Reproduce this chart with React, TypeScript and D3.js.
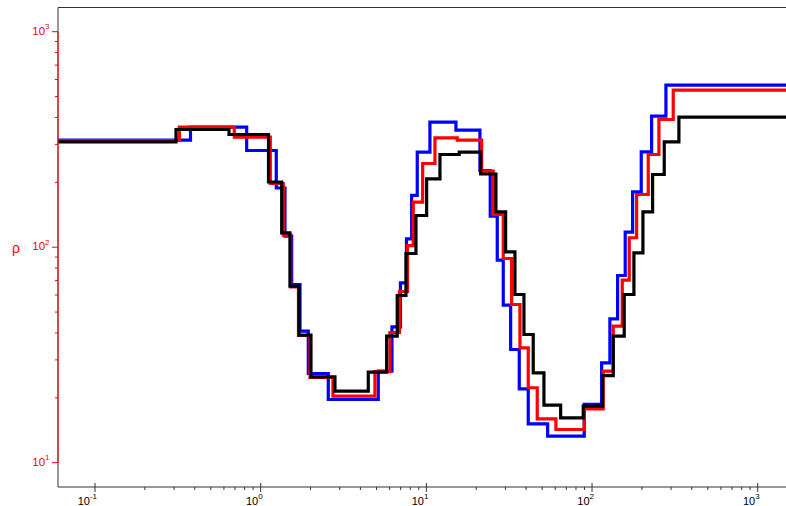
import React from 'react';
import * as d3 from 'd3';

// ---- data (time, value) step breakpoints ----
const xTickExps = [-1, 0, 1, 2, 3];
const yTickExps = [1, 2, 3];
const yLabel = 'ρ';
const tEnd = 3000;

const blueT = [0.01, 0.3771, 0.8232, 1.242, 1.402, 1.539, 1.727, 1.938, 2.559, 5.125, 6.2, 6.977, 7.586, 8.153, 8.812, 10.51, 15.09, 21.06, 24.3, 26.79, 29.12, 32.27, 36.37, 41.21, 53.97, 89.75, 114.3, 128.2, 142.7, 158.6, 175.8, 198.2, 228.9, 279.3];
const blueN = [313.7, 360.4, 281.0, 188.2, 112.5, 67.13, 40.75, 25.94, 19.65, 26.58, 42.71, 68.36, 109.2, 173.8, 275.9, 380.2, 349.1, 227.0, 139.3, 87.04, 53.82, 33.52, 22.03, 15.15, 13.27, 18.63, 29.08, 46.53, 73.91, 117.4, 180.7, 277.1, 405.5, 564.6];

const redT = [0.01, 0.3227, 0.693, 1.143, 1.369, 1.517, 1.691, 1.984, 2.731, 4.895, 6.03, 6.881, 7.691, 8.335, 9.5, 11.27, 15.37, 21.57, 25.33, 29.12, 32.72, 36.72, 41.21, 46.7, 60.55, 89.75, 116.8, 134.3, 152.2, 167.7, 185.9, 218.4, 253.4, 309.1];
const redN = [312.7, 360.4, 323.9, 197.5, 113.7, 65.36, 38.93, 24.85, 20.35, 26.49, 40.2, 62.29, 101.8, 161.7, 244.6, 321.9, 313.7, 225.3, 141.8, 88.63, 54.22, 34.13, 22.27, 15.98, 14.26, 17.79, 26.58, 42.99, 70.29, 110.6, 175.6, 269.3, 391.4, 535.2];

const blackT = [0.01, 0.3083, 0.6437, 1.115, 1.339, 1.502, 1.703, 2.012, 2.808, 4.461, 5.76, 6.672, 7.532, 8.655, 10.04, 12.08, 15.8, 21.27, 26.3, 30.1, 34.25, 38.82, 44.17, 51.25, 64.65, 88.49, 115.9, 134.3, 156.4, 179.0, 202.9, 232.1, 272.8, 334.5];
const blackN = [308.4, 351.7, 333.4, 200.7, 116.6, 65.92, 39.05, 25.03, 21.47, 26.3, 38.64, 59.69, 93.49, 140.3, 207.7, 269.3, 275.9, 218.6, 145.7, 95.2, 60.33, 39.35, 26.13, 18.49, 16.16, 18.29, 25.38, 38.64, 60.33, 94.2, 146.0, 217.5, 308.4, 401.1];

const seriesList = [
  { t: blueT, n: blueN, color: '#0000ff' },
  { t: redT, n: redN, color: '#ff0000' },
  { t: blackT, n: blackN, color: '#000000' },
];

const W = 786;
const H = 506;
const FONT = '"Liberation Sans", Arial, sans-serif';

export default function App() {
  const left = 58;
  const right = 800;
  const top = 7.5;
  const bottom = 487;
  const x = d3.scaleLog().domain([0.1, 1000]).range([95, 757.7]);
  const y = d3.scaleLog().domain([10, 1000]).range([462.7, 31.7]);

  const line = d3
    .line<[number, number]>()
    .x((d) => x(d[0]))
    .y((d) => y(d[1]))
    .curve(d3.curveStepAfter);

  const xMinor: number[] = [];
  for (let e = -1; e < 3; e++) for (let k = 2; k <= 9; k++) xMinor.push(k * Math.pow(10, e));
  const yMinor: number[] = [];
  for (let e = 1; e < 3; e++) for (let k = 2; k <= 9; k++) yMinor.push(k * Math.pow(10, e));

  const axisColor = '#333';
  const red = '#ff0000';

  return (
    <svg
      width={W}
      height={H}
      style={{ position: 'absolute', left: 0, top: 0, background: '#fff' }}
      fontFamily={FONT}
    >
      <defs>
        <clipPath id="plot">
          <rect x={left} y={top} width={right - left} height={bottom - top} />
        </clipPath>
      </defs>
      <rect x={0} y={0} width={W} height={H} fill="#fff" />

      <g clipPath="url(#plot)">
        {seriesList.map((s, i) => {
          const pts: [number, number][] = s.t.map((t, j) => [t, s.n[j]] as [number, number]);
          pts.push([tEnd, s.n[s.n.length - 1]]);
          return (
            <path
              key={i}
              d={line(pts) || ''}
              fill="none"
              stroke={s.color}
              strokeWidth={3.2}
              strokeLinejoin="miter"
            />
          );
        })}
      </g>

      {/* frame */}
      <line x1={left} x2={right} y1={top} y2={top} stroke={axisColor} strokeWidth={1} />
      <line x1={left} x2={right} y1={bottom} y2={bottom} stroke={axisColor} strokeWidth={1} />
      <line x1={left} x2={left} y1={top} y2={bottom} stroke={axisColor} strokeWidth={1} />
      <line x1={left} x2={left} y1={y(1000)} y2={y(10)} stroke={red} strokeWidth={1} />

      {/* x ticks */}
      {xMinor.map((v, i) => (
        <line key={'xm' + i} x1={x(v)} x2={x(v)} y1={bottom} y2={bottom + 3} stroke={axisColor} strokeWidth={1} />
      ))}
      {xTickExps.map((e) => {
        const px = x(Math.pow(10, e));
        return (
          <g key={'xt' + e}>
            <line x1={px} x2={px} y1={bottom - 4} y2={bottom + 5} stroke={axisColor} strokeWidth={1} />
            <text x={px + 2} y={505} fontSize={11} textAnchor="end" fill="#000">
              10
              <tspan fontSize={8} dy={-6}>{String(e)}</tspan>
            </text>
          </g>
        );
      })}

      {/* y ticks */}
      {yMinor.map((v, i) => (
        <line key={'ym' + i} x1={left - 3} x2={left} y1={y(v)} y2={y(v)} stroke={red} strokeWidth={1} />
      ))}
      {yTickExps.map((e) => {
        const py = y(Math.pow(10, e));
        return (
          <g key={'yt' + e}>
            <line x1={left - 6} x2={left} y1={py} y2={py} stroke={red} strokeWidth={1} />
            <text x={49.5} y={py + 2.8} fontSize={11.5} textAnchor="end" fill={red}>
              10
              <tspan fontSize={8} dy={-5.5}>{String(e)}</tspan>
            </text>
          </g>
        );
      })}

      <text x={12} y={253} fontSize={14} fill={red}>
        {yLabel}
      </text>
    </svg>
  );
}
